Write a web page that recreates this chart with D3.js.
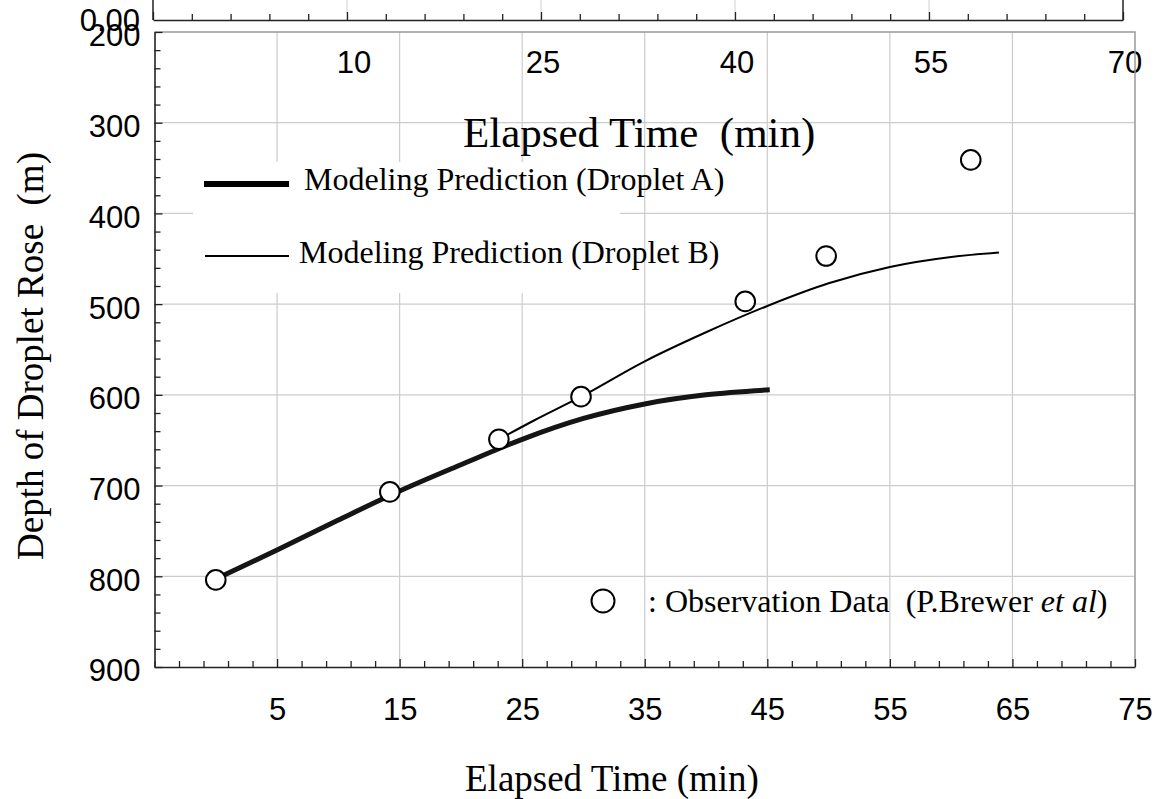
<!DOCTYPE html>
<html><head><meta charset="utf-8">
<script src="https://cdn.jsdelivr.net/npm/d3@7"></script>
<style>html,body{margin:0;padding:0;background:#fff;} svg{display:block}</style>
</head><body><svg id="c" width="1158" height="799"></svg>
<script>
// ---- data ----
const obsTime  = [0, 14.2, 23.1, 29.8, 43.2, 49.8, 61.6];
const obsDepth = [804, 707, 649, 602, 497, 447, 341];
const dropletATime  = [0, 5, 10, 15, 20, 25, 30, 35, 40, 45.2];
const dropletADepth = [803, 771, 738, 706, 677, 649, 626, 610, 600, 594.5];
const dropletBTime  = [23.1, 26, 29.8, 35, 40, 45, 50, 55, 60, 63.9];
const dropletBDepth = [649, 628, 602, 563, 531, 502, 477, 459, 448, 443];
const xTickLabels = [5, 15, 25, 35, 45, 55, 65, 75];
const yTickLabels = [200, 300, 400, 500, 600, 700, 800, 900];
const topTickLabels = [10, 25, 40, 55, 70];
const legendLabels = ["Modeling Prediction (Droplet A)", "Modeling Prediction (Droplet B)"];

const svg = d3.select('#c');
const SANS = '"Liberation Sans", Arial, sans-serif';
const SERIF = '"Liberation Serif", "Times New Roman", serif';

const x = d3.scaleLinear().domain([-5, 75]).range([154.5, 1135]);
const y = d3.scaleLinear().domain([200, 900]).range([32, 667]);
const xTop = d3.scaleLinear().domain([-5, 70]).range([153, 1123]);

// ---- top strip (bottom of a previous frame) ----
const topMajor = d3.range(-5, 71, 15);
const topMinor = d3.range(-5, 71, 3).filter(v => !topMajor.includes(v));
svg.append('g').selectAll('line').data(topTickLabels.slice(0, -1)).join('line')
  .attr('x1', d => xTop(d)).attr('x2', d => xTop(d)).attr('y1', 0).attr('y2', 20)
  .attr('stroke', '#cfcfcf').attr('stroke-width', 1);
const gTopMaj = svg.append('g').attr('transform', 'translate(0,20)')
  .call(d3.axisTop(xTop).tickValues(topMajor).tickSize(8).tickSizeOuter(0).tickFormat(''));
const gTopMin = svg.append('g').attr('transform', 'translate(0,20)')
  .call(d3.axisTop(xTop).tickValues(topMinor).tickSize(6).tickSizeOuter(0).tickFormat(''));
gTopMin.select('.domain').remove();
[gTopMaj, gTopMin].forEach(g => {
  g.selectAll('line').attr('stroke', '#222').attr('stroke-width', 1.3);
  g.select('.domain').attr('stroke', '#222').attr('stroke-width', 1.5);
});
svg.append('g').selectAll('line').data([-5, 70]).join('line')
  .attr('x1', d => xTop(d)).attr('x2', d => xTop(d)).attr('y1', 0).attr('y2', 20)
  .attr('stroke', '#222').attr('stroke-width', 1.5);
svg.append('text').attr('x', 140).attr('y', 20).attr('dy', '0.36em')
  .attr('text-anchor', 'end').attr('font-family', SANS).attr('font-size', 31).text('0.00');
svg.append('g').selectAll('text').data(topTickLabels).join('text')
  .attr('x', d => xTop(d)).attr('dx', d => d === 10 ? 7 : 2).attr('y', 72.5).attr('text-anchor', 'middle')
  .attr('font-family', SANS).attr('font-size', 31).text(d => d);

// ---- gridlines ----
const grid = svg.append('g').attr('stroke', '#cccccc').attr('stroke-width', 1.2);
grid.selectAll('line.v').data(xTickLabels.slice(0, -1)).join('line')
  .attr('x1', d => x(d)).attr('x2', d => x(d)).attr('y1', y(200)).attr('y2', y(900));
grid.selectAll('line.h').data(yTickLabels.slice(1, -1)).join('line').attr('class', 'h')
  .attr('x1', x(-5)).attr('x2', x(75)).attr('y1', d => y(d)).attr('y2', d => y(d));

// legend background
svg.append('rect').attr('x', 193).attr('y', 162).attr('width', 427).attr('height', 131).attr('fill', '#fff');

// frame top/right
svg.append('path').attr('d', `M${x(-5)},${y(200)}H${x(75)}V${y(900)}`)
  .attr('fill', 'none').attr('stroke', '#999').attr('stroke-width', 1.5);

// ---- axes ----
const gy = svg.append('g').attr('transform', `translate(${x(-5)},0)`)
  .call(d3.axisLeft(y).tickValues(yTickLabels).tickSizeInner(-8).tickSizeOuter(0).tickPadding(14));
const gyMin = svg.append('g').attr('transform', `translate(${x(-5)},0)`)
  .call(d3.axisLeft(y).tickValues(d3.range(200, 901, 20).filter(v => v % 100)).tickSizeInner(-6).tickSizeOuter(0).tickFormat(''));
gyMin.select('.domain').remove();
const gx = svg.append('g').attr('transform', `translate(0,${y(900)})`)
  .call(d3.axisBottom(x).tickValues(xTickLabels).tickSizeInner(-8).tickSizeOuter(0).tickPadding(31));
const gxMin = svg.append('g').attr('transform', `translate(0,${y(900)})`)
  .call(d3.axisBottom(x).tickValues(d3.range(-5, 76, 2).filter(v => !xTickLabels.includes(v))).tickSizeInner(-6).tickSizeOuter(0).tickFormat(''));
gxMin.select('.domain').remove();
[gy, gyMin, gx, gxMin].forEach(g => {
  g.selectAll('line').attr('stroke', '#222').attr('stroke-width', 1.3);
  g.select('.domain').attr('stroke', '#222').attr('stroke-width', 1.6);
  g.selectAll('text').attr('font-family', SANS).attr('font-size', 31).attr('fill', '#000');
});
gy.selectAll('text').attr('dy', '0.45em');

// ---- curves ----
const line = d3.line().x(d => x(d[0])).y(d => y(d[1])).curve(d3.curveMonotoneX);
svg.append('path').datum(dropletATime.map((t, i) => [t, dropletADepth[i]]))
  .attr('d', line).attr('fill', 'none').attr('stroke', '#151515').attr('stroke-width', 5);
svg.append('path').datum(dropletBTime.map((t, i) => [t, dropletBDepth[i]]))
  .attr('d', line).attr('fill', 'none').attr('stroke', '#000').attr('stroke-width', 2);

// ---- observations ----
svg.append('g').selectAll('circle').data(obsTime.map((t, i) => [t, obsDepth[i]])).join('circle')
  .attr('cx', d => x(d[0])).attr('cy', d => y(d[1])).attr('r', 9.8)
  .attr('fill', '#fff').attr('stroke', '#000').attr('stroke-width', 2);

// ---- legend ----
svg.append('line').attr('x1', 204).attr('x2', 289).attr('y1', 184).attr('y2', 184)
  .attr('stroke', '#000').attr('stroke-width', 6);
svg.append('line').attr('x1', 205).attr('x2', 289).attr('y1', 256).attr('y2', 256)
  .attr('stroke', '#000').attr('stroke-width', 1.8);
svg.append('text').attr('x', 304).attr('y', 190).attr('font-family', SERIF).attr('font-size', 32).text(legendLabels[0]);
svg.append('text').attr('x', 299).attr('y', 263).attr('font-family', SERIF).attr('font-size', 32).text(legendLabels[1]);

svg.append('circle').attr('cx', 603).attr('cy', 601).attr('r', 11.5)
  .attr('fill', '#fff').attr('stroke', '#000').attr('stroke-width', 2);
const obsT = svg.append('text').attr('x', 648).attr('y', 612).attr('font-family', SERIF).attr('font-size', 32)
  .attr('xml:space', 'preserve');
obsT.append('tspan').text(': Observation Data\u00a0\u00a0(P.Brewer ');
obsT.append('tspan').attr('font-style', 'italic').text('et al');
obsT.append('tspan').text(')');

// ---- titles ----
svg.append('text').attr('x', 463).attr('y', 147).attr('font-family', SERIF).attr('font-size', 43)
  .text('Elapsed Time\u00a0\u00a0(min)');
svg.append('text').attr('x', 465).attr('y', 791).attr('font-family', SERIF).attr('font-size', 37)
  .text('Elapsed Time (min)');
svg.append('text').attr('transform', 'translate(43,356) rotate(-90)').attr('text-anchor', 'middle')
  .attr('font-family', SERIF).attr('font-size', 37).text('Depth of Droplet Rose\u00a0\u00a0(m)');
</script></body></html>
